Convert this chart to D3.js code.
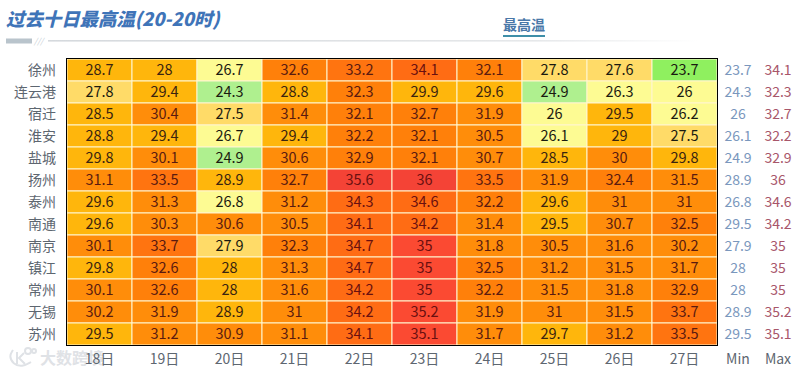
<!DOCTYPE html>
<html><head><meta charset="utf-8">
<script src="https://cdn.jsdelivr.net/npm/d3@7"></script>
<style>html,body{margin:0;padding:0;background:#fff;overflow:hidden}svg{display:block}
text{font-family:"Noto Sans CJK SC","Noto Sans",sans-serif}</style></head><body>
<svg id="c" width="799" height="372"></svg>
<script>
const cities=["徐州","连云港","宿迁","淮安","盐城","扬州","泰州","南通","南京","镇江","常州","无锡","苏州"];
const days=["18日","19日","20日","21日","22日","23日","24日","25日","26日","27日"];
const values=[
[28.7,28,26.7,32.6,33.2,34.1,32.1,27.8,27.6,23.7],
[27.8,29.4,24.3,28.8,32.3,29.9,29.6,24.9,26.3,26],
[28.5,30.4,27.5,31.4,32.1,32.7,31.9,26,29.5,26.2],
[28.8,29.4,26.7,29.4,32.2,32.1,30.5,26.1,29,27.5],
[29.8,30.1,24.9,30.6,32.9,32.1,30.7,28.5,30,29.8],
[31.1,33.5,28.9,32.7,35.6,36,33.5,31.9,32.4,31.5],
[29.6,31.3,26.8,31.2,34.3,34.6,32.2,29.6,31,31],
[29.6,30.3,30.6,30.5,34.1,34.2,31.4,29.5,30.7,32.5],
[30.1,33.7,27.9,32.3,34.7,35,31.8,30.5,31.6,30.2],
[29.8,32.6,28,31.3,34.7,35,32.5,31.2,31.5,31.7],
[30.1,32.6,28,31.6,34.2,35,32.2,31.5,31.8,32.9],
[30.2,31.9,28.9,31,34.2,35.2,31.9,31,31.5,33.7],
[29.5,31.2,30.9,31.1,34.1,35.1,31.7,29.7,31.2,33.5]];
const mins=[23.7,24.3,26,26.1,24.9,28.9,26.8,29.5,27.9,28,28,28.9,29.5];
const maxs=[34.1,32.3,32.7,32.2,32.9,36,34.6,34.2,35,35,35,35.2,35.1];
const thresholds=[24,25,27,28,30,32,33,34,35,35.5];
const colors=["#8ff05f","#aff08f","#fdfb93","#ffdb68","#ffb60c","#ff8d0a","#ff800a","#ff7410","#ff6c14","#fb4a32","#f44336"];
const textThresholds=[28,30,34];
const textColors=["#1a1a10","#3a2410","#5a1a10","#6a1010"];

const svg=d3.select("#c");
const x=d3.scaleBand().domain(days).range([67,717]);
const y=d3.scaleBand().domain(cities).range([59,345]);
const color=d3.scaleThreshold().domain(thresholds).range(colors);
const tcol=d3.scaleThreshold().domain(textThresholds).range(textColors);

// title
svg.append("text").attr("x",6).attr("y",26).attr("font-size",18.4).attr("font-weight",900).attr("font-style","italic").attr("fill","#3f74b8").text("过去十日最高温(20-20时)");
// divider
const defs=svg.append("defs");
const g=defs.append("linearGradient").attr("id","fade");
g.append("stop").attr("offset","0").attr("stop-color","#d5d9dd");
g.append("stop").attr("offset","0.75").attr("stop-color","#e6e8ea");
g.append("stop").attr("offset","1").attr("stop-color","#fff");
svg.append("rect").attr("x",48).attr("y",40).attr("width",650).attr("height",1.6).attr("fill","url(#fade)");
svg.append("rect").attr("x",6).attr("y",38.5).attr("width",26).attr("height",5).attr("fill","#b9c4cc");
svg.append("text").attr("x",34).attr("y",44).attr("font-size",8).attr("font-style","italic").attr("fill","#c4ccd2").text("///");
// tab
svg.append("text").attr("x",524).attr("y",30).attr("text-anchor","middle").attr("font-size",14).attr("font-weight",700).attr("fill","#4a78a8").text("最高温");
svg.append("rect").attr("x",503).attr("y",35).attr("width",42).attr("height",2).attr("fill","#3f8fa8");

// cells
const rows=svg.append("g").selectAll("g").data(values).join("g").attr("transform",(d,i)=>`translate(0,${y(cities[i])})`);
rows.selectAll("rect").data(d=>d).join("rect")
 .attr("x",(d,i)=>x(days[i])).attr("width",x.bandwidth()).attr("height",y.bandwidth())
 .attr("fill",d=>color(d)).attr("stroke","#fff6cf").attr("stroke-width",1);
rows.selectAll("text").data(d=>d).join("text")
 .attr("x",(d,i)=>x(days[i])+x.bandwidth()/2).attr("y",y.bandwidth()/2+5.2)
 .attr("text-anchor","middle").attr("font-size",14.5).attr("fill",d=>tcol(d)).text(d=>d);
svg.append("rect").attr("x",66.5).attr("y",58.5).attr("width",651).attr("height",287).attr("fill","none").attr("stroke","#000").attr("stroke-width",1);

// watermark (beneath axis labels)
const wm=svg.append("g").attr("fill","none").attr("stroke","#dfe2e6").attr("stroke-width",2);
wm.append("path").attr("d",d3.line().curve(d3.curveBasis)([[13,350],[9,356],[13,364],[22,367],[31,362]]));
wm.append("path").attr("d",d3.line()([[17,352],[17,364]]));
wm.append("path").attr("d",d3.line()([[24,353],[19,358],[25,364]]));
wm.append("circle").attr("cx",28).attr("cy",351).attr("r",3);
wm.append("circle").attr("cx",34).attr("cy",351).attr("r",2);
svg.append("text").attr("x",40).attr("y",364).attr("font-size",16).attr("font-weight",700).attr("fill","#dfe2e6").text("大数跨境");

// city labels
svg.append("g").selectAll("text").data(cities).join("text").attr("x",56).attr("y",d=>y(d)+y.bandwidth()/2+4.5).attr("text-anchor","end").attr("font-size",14).attr("fill","#5d6670").text(d=>d);
// days
svg.append("g").selectAll("text").data(days).join("text").attr("x",d=>x(d)+x.bandwidth()/2).attr("y",364).attr("text-anchor","middle").attr("font-size",14).attr("fill","#5d6670").text(d=>d);
// min/max
svg.append("g").selectAll("text").data(mins).join("text").attr("x",738).attr("y",(d,i)=>y(cities[i])+y.bandwidth()/2+5).attr("text-anchor","middle").attr("font-size",14).attr("fill","#7a97bd").text(d=>d);
svg.append("g").selectAll("text").data(maxs).join("text").attr("x",778).attr("y",(d,i)=>y(cities[i])+y.bandwidth()/2+5).attr("text-anchor","middle").attr("font-size",14).attr("fill","#a8566a").text(d=>d);
svg.append("text").attr("x",738).attr("y",364).attr("text-anchor","middle").attr("font-size",14).attr("fill","#5d6670").text("Min");
svg.append("text").attr("x",778).attr("y",364).attr("text-anchor","middle").attr("font-size",14).attr("fill","#5d6670").text("Max");
</script></body></html>
